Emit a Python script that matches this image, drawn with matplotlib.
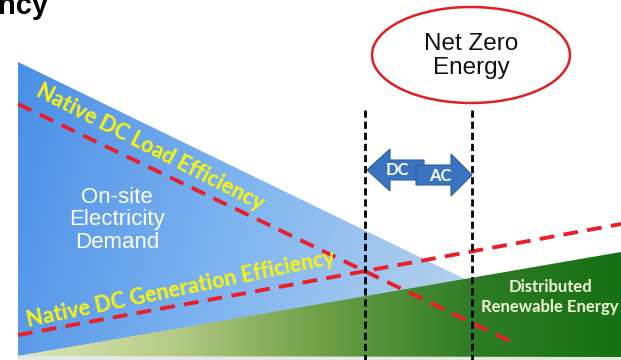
import numpy as np
import matplotlib
matplotlib.use("Agg")
import matplotlib.pyplot as plt
from matplotlib.patches import Polygon, Ellipse
from matplotlib.colors import LinearSegmentedColormap

plt.rcParams['font.family'] = ['Liberation Sans', 'DejaVu Sans']
CAL = ['Lato', 'DejaVu Sans']

# ---- diagram geometry (pixel-space units, y grows downward) ----
demand_x = [18, 18, 467]          # on-site electricity demand triangle
demand_y = [62, 356, 280]
renew_x = [18, 621, 621]          # distributed renewable energy wedge
renew_y = [356, 252, 357]
load_eff_x = [18, 518]            # native DC load efficiency line
load_eff_y = [104, 345]
gen_eff_x = [18, 621]             # native DC generation efficiency line
gen_eff_y = [335, 224]
boundary_x = [365, 472]           # DC / AC boundaries
boundary_top = 110
boundary_bottom = 360

labels_main = ["On-site\nElectricity\nDemand", "Distributed\nRenewable Energy", "Net Zero\nEnergy"]
line_labels = ["Native DC Load Efficiency", "Native DC Generation Efficiency"]
arrow_labels = ["DC", "AC"]

W, H = 621, 360
fig = plt.figure(figsize=(W / 100, H / 100), dpi=100)
ax = fig.add_axes([0, 0, 1, 1])
ax.set_xlim(0, W)
ax.set_ylim(H, 0)
ax.axis('off')

# bottom light strip
ax.add_patch(Polygon([[18, 356], [621, 356], [621, 360], [18, 360]], closed=True,
                     facecolor='#e6e8e6', edgecolor='none', zorder=0))

# blue gradient triangle
blue_cmap = LinearSegmentedColormap.from_list('b', ['#4a8fe6', '#7fb5f0', '#b9d3ee'])
grad = np.linspace(0, 1, 256).reshape(1, -1)
gy = np.linspace(0, 1, 64).reshape(-1, 1)
blue_img = np.clip(grad * 0.85 + gy * 0.15, 0, 1)
tri = Polygon(np.column_stack([demand_x, demand_y]), closed=True, facecolor='none', edgecolor='none')
ax.add_patch(tri)
im = ax.imshow(blue_img, cmap=blue_cmap, extent=[18, 467, 356, 62], aspect='auto', zorder=1,
               interpolation='bilinear')
im.set_clip_path(tri)

# green gradient wedge
green_cmap = LinearSegmentedColormap.from_list('g', ['#dfe6b8', '#b7cc88', '#6fa047', '#2f7d26', '#167014'])
wedge = Polygon(np.column_stack([renew_x, renew_y]), closed=True, facecolor='none', edgecolor='none')
ax.add_patch(wedge)
im2 = ax.imshow(grad, cmap=green_cmap, extent=[18, 621, 357, 252], aspect='auto', zorder=2,
                interpolation='bilinear')
im2.set_clip_path(wedge)

# red dashed efficiency lines
ax.plot(load_eff_x, load_eff_y, color='#e8202a', lw=2.8, dashes=(3.8, 2.4), zorder=4)
ax.plot(gen_eff_x, gen_eff_y, color='#e8202a', lw=2.8, dashes=(3.8, 2.4), zorder=4)

# black dashed boundaries
for bx in boundary_x:
    ax.plot([bx, bx], [boundary_top, boundary_bottom], color='black', lw=2.0, dashes=(2.6, 1.4), zorder=5)

# line labels (rotated along lines)
def angle_between(x0, y0, x1, y1):
    return np.degrees(np.arctan2(-(y1 - y0), x1 - x0))

ax.text(150, 147, line_labels[0], rotation=angle_between(35, 88, 267, 207), rotation_mode='anchor',
        ha='center', va='center', color='#f4f01a', fontsize=15.5, fontweight='black', family=CAL, zorder=6)
ax.text(181, 289, line_labels[1], rotation=angle_between(29, 320, 335, 257), rotation_mode='anchor',
        ha='center', va='center', color='#f4f01a', fontsize=15.5, fontweight='black', family=CAL, zorder=6)

# region labels
ax.text(117, 220, labels_main[0], ha='center', va='center', color='white', fontsize=16,
        linespacing=1.1, zorder=6)
ax.text(550, 297, labels_main[1], ha='center', va='center', color='#f0f4d8', fontsize=12,
        fontweight='bold', linespacing=1.25, family=CAL, zorder=6)

# Net Zero Energy ellipse
ax.add_patch(Ellipse((471, 55), 198, 96, facecolor='white', edgecolor='#e02020', lw=1.8, zorder=6))
ax.text(471, 56, labels_main[2], ha='center', va='center', color='#111111', fontsize=17.5,
        linespacing=1.15, zorder=7)

# DC / AC double arrow
arrow_col = '#3a74c0'
left_arrow = [[367, 170], [390, 149], [390, 160], [424, 160], [424, 180], [390, 180], [390, 191]]
right_arrow = [[472, 175], [451, 196], [451, 185], [416, 185], [416, 165], [451, 165], [451, 154]]
ax.add_patch(Polygon(left_arrow, closed=True, facecolor=arrow_col, edgecolor='#2c5f9f', lw=0.8, zorder=6))
ax.add_patch(Polygon(right_arrow, closed=True, facecolor=arrow_col, edgecolor='#2c5f9f', lw=0.8, zorder=7))
ax.text(397, 170, arrow_labels[0], ha='center', va='center', color='white', fontsize=12,
        fontweight='bold', family=CAL, zorder=8)
ax.text(440, 176, arrow_labels[1], ha='center', va='center', color='white', fontsize=12,
        fontweight='bold', family=CAL, zorder=8)

# cropped title fragment
ax.text(-2, 14, "ncy", ha='left', va='baseline', color='black', fontsize=21, fontweight='bold', zorder=8)

fig.savefig('out.png', dpi=100)
